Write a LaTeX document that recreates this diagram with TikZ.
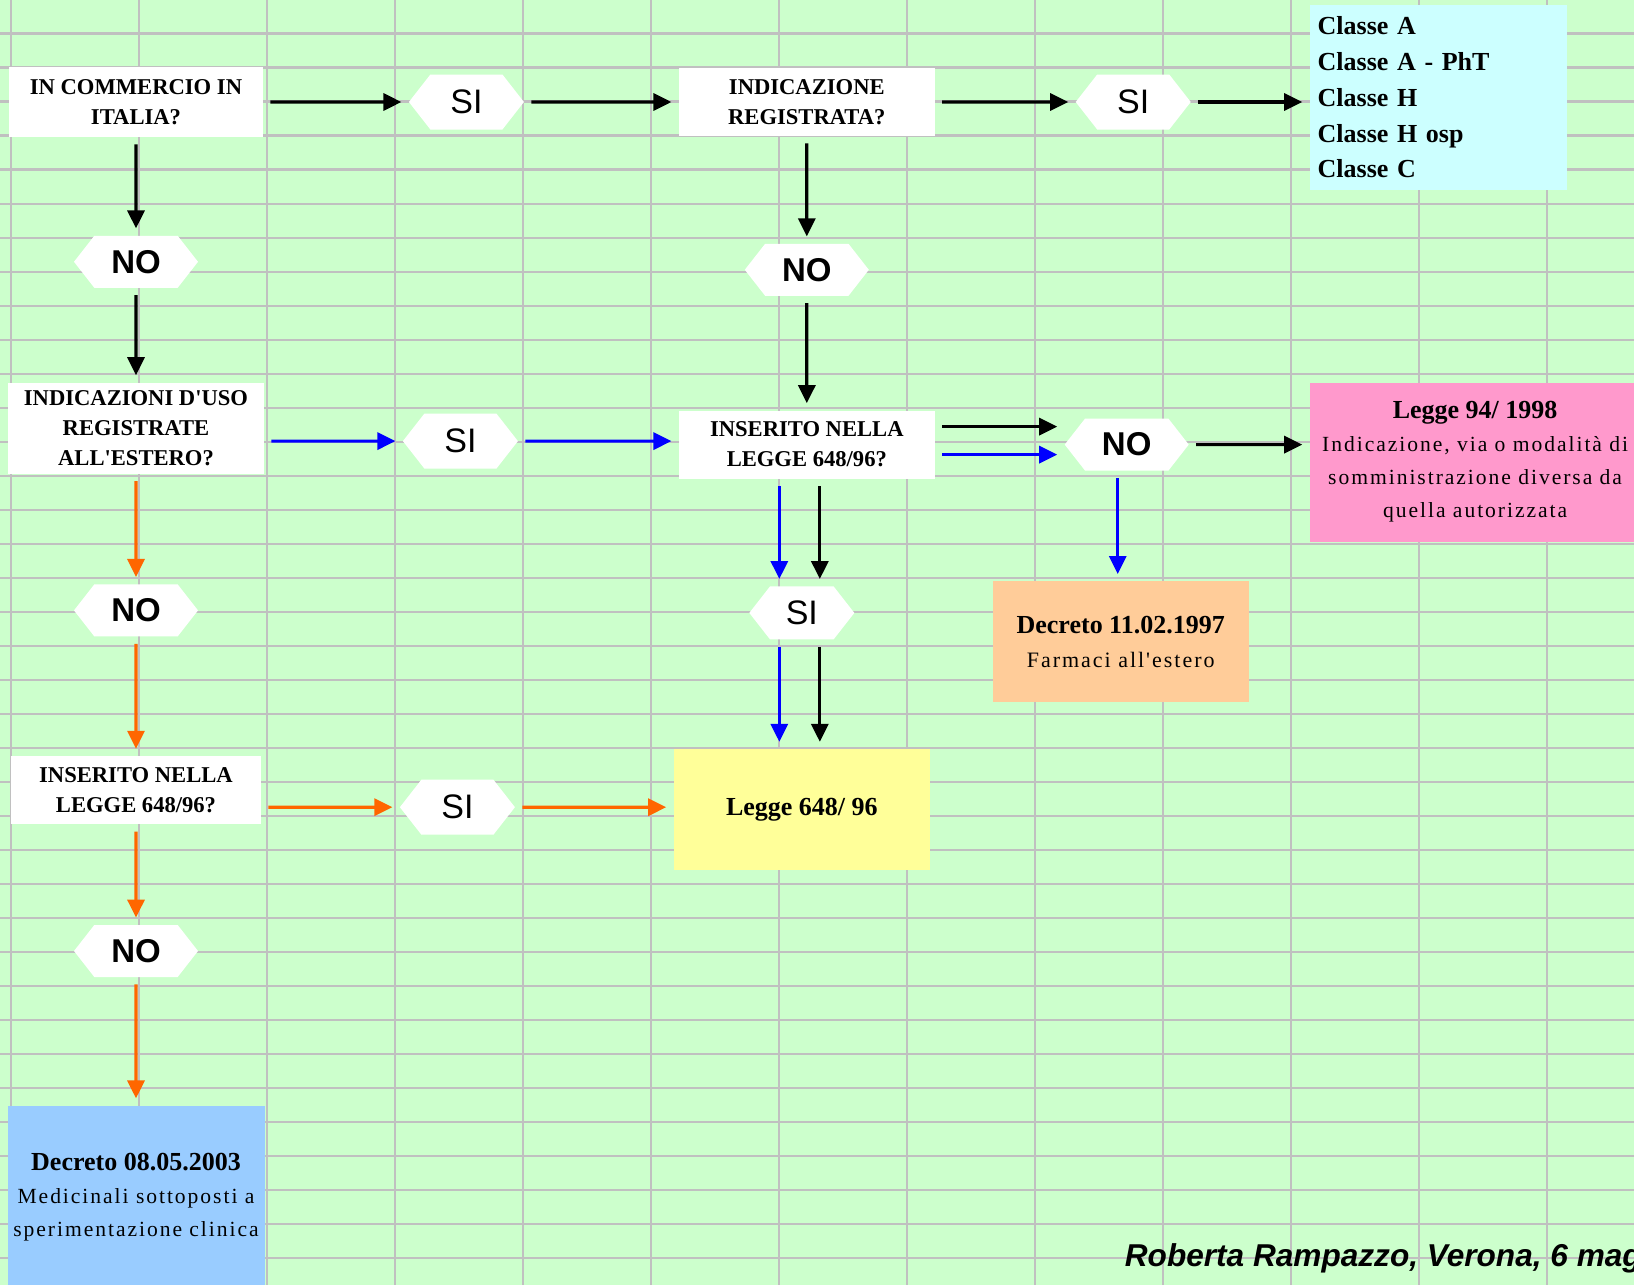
\documentclass[tikz,border=0pt]{standalone}
\usepackage{fontspec}
\setmainfont{Liberation Serif}
\setsansfont{Liberation Sans}
\newfontfamily\plainserif{Liberation Serif}
\newfontfamily\airyserif[LetterSpace=9]{Liberation Serif}
\newcommand{\lawtitlefont}{\bfseries\fontsize{13}{16.5}\selectfont}
\usepackage{xcolor}
\definecolor{SheetGreen}{HTML}{CCFFCC}
\definecolor{SheetGrid}{HTML}{C0C0C0}
\definecolor{SheetCyan}{HTML}{CCFFFF}
\definecolor{SheetPink}{HTML}{FF99CC}
\definecolor{SheetPeach}{HTML}{FFCC99}
\definecolor{SheetYellow}{HTML}{FFFF99}
\definecolor{SheetBlue}{HTML}{99CCFF}
\definecolor{FlowOrange}{HTML}{FF6600}
\definecolor{FlowBlue}{HTML}{0000FF}
\usepackage{tikz}
\usetikzlibrary{positioning,arrows.meta,shapes.symbols}
\tikzset{
  qbox/.style={fill=white,inner sep=0pt,align=center,minimum width=128pt,minimum height=34pt,font=\plainserif\fontsize{11.3}{15}\selectfont\bfseries},
  choiceno/.style={signal,signal to=west and east,signal pointer angle=104,fill=white,inner sep=0pt,minimum width=62pt,minimum height=26pt,font=\sffamily\bfseries\fontsize{16.5}{18}\selectfont},
  choicesi/.style={choiceno,minimum width=57.5pt,minimum height=27.5pt,font=\sffamily\fontsize{17}{18}\selectfont},
  lawbox/.style={inner sep=0pt,align=center,minimum width=128.2pt,font=\airyserif\fontsize{10.8}{16.5}\selectfont},
  lawtitle/.style={font=\lawtitlefont},
  flow/.style={-{Triangle[length=9pt,width=8.5pt]},line width=1.6pt,shorten <=3.5pt,shorten >=3.5pt},
  blueflow/.style={flow,draw=FlowBlue},
  orangeflow/.style={flow,draw=FlowOrange},
  gridline/.style={draw=SheetGrid,line width=1.1pt}
}
\begin{document}
\begin{tikzpicture}[x=0.5pt,y=-0.5pt]
  \useasboundingbox (0,0) rectangle (1634,1285);
  \clip (0,0) rectangle (1634,1285);
  % spreadsheet background
  \fill[SheetGreen] (0,0) rectangle (1634,1285);
  \foreach \c in {0,...,12}
    \draw[gridline] ({11+127.98*\c},0) -- ++(0,1285);
  \foreach \r in {0,...,36}
    \draw[gridline] (0,{33.5+34.02*\r}) -- ++(1634,0);

  % top row
  \node[qbox,minimum width=127pt,minimum height=35pt] (commercio) at (136,102) {IN COMMERCIO IN\\ITALIA?};
  \node[choicesi,right=72.5pt of commercio] (si1) {SI};
  \node[qbox,right=77pt of si1] (indicazione) {INDICAZIONE\\REGISTRATA?};
  \node[choicesi,right=70pt of indicazione] (si2) {SI};
  \node[fill=SheetCyan,inner xsep=4pt,inner ysep=0pt,text width=120.5pt,align=left,minimum height=92.5pt,
        right=59pt of si2,yshift=2.25pt,font=\bfseries\fontsize{13}{17.9}\selectfont] (classi)
        {Classe A\\Classe A - PhT\\Classe H\\Classe H osp\\Classe C};

  % left column
  \node[choiceno,below=49pt of commercio] (no1) {NO};
  \node[qbox,minimum height=45.5pt,below=47pt of no1] (estero) {INDICAZIONI D'USO\\REGISTRATE\\ALL'ESTERO?};
  \node[choiceno,below=55pt of estero] (no4) {NO};
  \node[qbox,minimum width=125pt,below=59.5pt of no4] (inseritosx) {INSERITO NELLA\\LEGGE 648/96?};
  \node[choiceno,below=50pt of inseritosx] (no5) {NO};
  \node[lawbox,fill=SheetBlue,minimum width=128.5pt,minimum height=91pt,below=64pt of no5] (decreto03)
        {{\rmfamily\lawtitlefont Decreto 08.05.2003}\\Medicinali sottoposti a\\sperimentazione clinica};

  % middle and right
  \node[choicesi,right=69pt of estero,yshift=-6.5pt] (si3) {SI};
  \node[choiceno,below=53.5pt of indicazione] (no2) {NO};
  \node[qbox,below=57pt of no2] (inserito) {INSERITO NELLA\\LEGGE 648/96?};
  \node[choiceno,right=64.5pt of inserito] (no3) {NO};
  \node[lawbox,fill=SheetPink,minimum width=165.5pt,minimum height=79.5pt,right=60pt of no3,yshift=-8.75pt] (legge94)
        {{\rmfamily\lawtitlefont Legge 94/ 1998}\\Indicazione, via o modalità di\\somministrazione diversa da\\quella autorizzata};
  \node[lawbox,fill=SheetPeach,minimum height=60.5pt,below=55pt of no3,xshift=-3pt,font=\airyserif\fontsize{11}{17.3}\selectfont] (decreto97)
        {{\rmfamily\lawtitlefont Decreto 11.02.1997}\\Farmaci all'estero};
  \node[choicesi,minimum width=52.5pt,minimum height=26.5pt,below=53.5pt of inserito,xshift=-2.5pt] (si4) {SI};
  \node[lawbox,lawtitle,fill=SheetYellow,minimum height=60.35pt,below=54.5pt of si4] (legge648) {Legge 648/ 96};
  \node[choicesi,right=69pt of inseritosx,yshift=-8.5pt] (si5) {SI};

  \node[anchor=base west,inner sep=0pt,font=\sffamily\bfseries\itshape\fontsize{15.8}{18}\selectfont] (autore)
        at (1124.5,1266) {Roberta Rampazzo, Verona, 6 mag};

  % black flow
  \draw[flow] (commercio) -- (si1);
  \draw[flow] (si1) -- (indicazione);
  \draw[flow] (indicazione) -- (si2);
  \draw[flow] (si2.east) -- (si2.east -| classi.west);
  \draw[flow] (commercio) -- (no1);
  \draw[flow] (no1) -- (estero);
  \draw[flow] (indicazione) -- (no2);
  \draw[flow] (no2) -- (inserito);
  \draw[flow] ([yshift=9pt]inserito.east) -- ([yshift=9pt]no3.west);
  \draw[flow] (no3) -- (no3 -| legge94.west);
  \draw[flow] ([xshift=6.5pt]inserito.south) -- ([xshift=6.5pt]inserito.south |- si4.north);
  \draw[flow] ([xshift=6.5pt]inserito.south |- si4.south) -- ([xshift=6.5pt]inserito.south |- legge648.north);

  % blue flow
  \draw[blueflow] (estero.east |- si3) -- (si3);
  \draw[blueflow] (si3) -- (si3 -| inserito.west);
  \draw[blueflow] ([yshift=-5pt]inserito.east) -- ([yshift=-5pt]no3.west);
  \draw[blueflow] ([xshift=-4.5pt]no3.south) -- ([xshift=-4.5pt]no3.south |- decreto97.north);
  \draw[blueflow] ([xshift=-13.75pt]inserito.south) -- ([xshift=-13.75pt]inserito.south |- si4.north);
  \draw[blueflow] ([xshift=-13.75pt]inserito.south |- si4.south) -- ([xshift=-13.75pt]inserito.south |- legge648.north);

  % orange flow
  \draw[orangeflow] (estero) -- (no4);
  \draw[orangeflow] (no4) -- (inseritosx);
  \draw[orangeflow] (inseritosx.east |- si5) -- (si5);
  \draw[orangeflow] (si5) -- (si5 -| legge648.west);
  \draw[orangeflow] (inseritosx) -- (no5);
  \draw[orangeflow] (no5) -- (decreto03);
\end{tikzpicture}
\end{document}
